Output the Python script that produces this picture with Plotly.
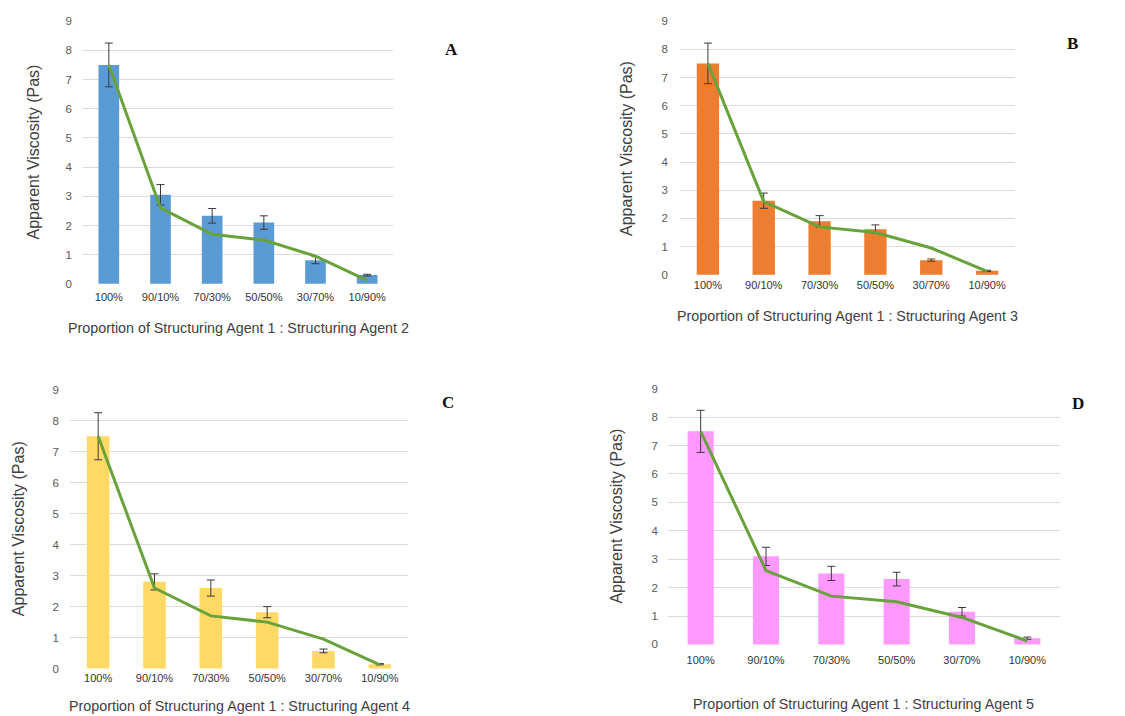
import plotly.graph_objects as go

categories = ["100%", "90/10%", "70/30%", "50/50%", "30/70%", "10/90%"]
y_ticks = [0, 1, 2, 3, 4, 5, 6, 7, 8, 9]

a_vals = [7.5, 3.05, 2.33, 2.1, 0.81, 0.3]
a_err = [0.75, 0.35, 0.25, 0.23, 0.12, 0.03]
b_vals = [7.5, 2.63, 1.9, 1.62, 0.52, 0.14]
b_err = [0.72, 0.27, 0.2, 0.15, 0.04, 0.02]
c_vals = [7.5, 2.8, 2.6, 1.82, 0.57, 0.14]
c_err = [0.76, 0.26, 0.26, 0.18, 0.06, 0.02]
d_vals = [7.5, 3.1, 2.5, 2.3, 1.15, 0.22]
d_err = [0.74, 0.32, 0.25, 0.24, 0.15, 0.04]
ref_line = [7.5, 2.6, 1.7, 1.5, 0.95, 0.12]

panels = [
    ("A", a_vals, a_err, "#5B9BD5", "Structuring Agent 2"),
    ("B", b_vals, b_err, "#ED7D31", "Structuring Agent 3"),
    ("C", c_vals, c_err, "#FFD966", "Structuring Agent 4"),
    ("D", d_vals, d_err, "#FF99FF", "Structuring Agent 5"),
]

W, H = 1125, 716


def fx(x):
    return (x - 8) / W


def fy(y):
    return 1 - ((y - 15.5) / 0.979) / H


# pixel boxes (x0, x1, ytop, ybottom)
boxes = [(83, 393, 23, 285), (680, 1015, 23, 276), (70, 408, 389, 667), (668, 1060, 388, 643)]
ytitle_x = [33, 627, 18, 617]
xtitle_y = [328, 316, 704, 702]
letter_pos = [(451, 52), (1072, 46), (448, 402), (1078, 403)]
xstandoff = [5, 2, 1, 7]
ystandoff = [10, 11, 10, 9]

fig = go.Figure()
annotations = []
layout = {}
for i, (letter, vals, errs, color, agent) in enumerate(panels):
    n = "" if i == 0 else str(i + 1)
    xa, ya = "x" + n, "y" + n
    x0, x1, yt, yb = boxes[i]
    fig.add_trace(go.Bar(
        x=categories, y=vals, xaxis=xa, yaxis=ya, marker=dict(color=color, line=dict(width=0)),
        error_y=dict(type="data", array=errs, color="#3a3a3a", thickness=1, width=4),
        showlegend=False,
    ))
    fig.add_trace(go.Scatter(
        x=categories, y=ref_line, xaxis=xa, yaxis=ya, mode="lines",
        line=dict(color="#68A23A", width=3), showlegend=False,
    ))
    layout["xaxis" + n] = dict(
        domain=[fx(x0), fx(x1)], anchor=ya, type="category",
        showgrid=False, showline=False, zeroline=False, ticks="",
        ticklabelstandoff=xstandoff[i],
        tickfont=dict(family="Liberation Sans", size=11, color="#333333"),
    )
    layout["yaxis" + n] = dict(
        domain=[fy(yb), fy(yt)], anchor=xa, range=[-0.02, 9.02],
        tickvals=y_ticks, showgrid=True, gridcolor="#DADADA", gridwidth=1,
        showline=False, zeroline=False, ticks="", ticklabelstandoff=ystandoff[i],
        tickfont=dict(family="Liberation Sans", size=11.5, color="#595959"),
    )
    annotations.append(dict(
        x=fx(ytitle_x[i]), y=fy((yt + yb) / 2), xref="paper", yref="paper",
        text="Apparent Viscosity (Pas)", textangle=-90, showarrow=False,
        font=dict(family="Liberation Sans", size=16, color="#404040"),
        xanchor="center", yanchor="middle",
    ))
    annotations.append(dict(
        x=fx((x0 + x1) / 2), y=fy(xtitle_y[i]), xref="paper", yref="paper",
        text="Proportion of Structuring Agent 1 : " + agent, showarrow=False,
        font=dict(family="Liberation Sans", size=14.3, color="#404040"),
        xanchor="center", yanchor="middle",
    ))
    lx, ly = letter_pos[i]
    annotations.append(dict(
        x=fx(lx), y=fy(ly), xref="paper", yref="paper",
        text="<b>" + letter + "</b>", showarrow=False,
        font=dict(family="Liberation Serif", size=17, color="#111111"),
        xanchor="center", yanchor="middle",
    ))

fig.update_layout(
    width=W, height=H, margin=dict(l=0, r=0, t=0, b=0),
    paper_bgcolor="white", plot_bgcolor="white",
    bargap=0.6, annotations=annotations, **layout,
)
fig.write_html("out.html")
